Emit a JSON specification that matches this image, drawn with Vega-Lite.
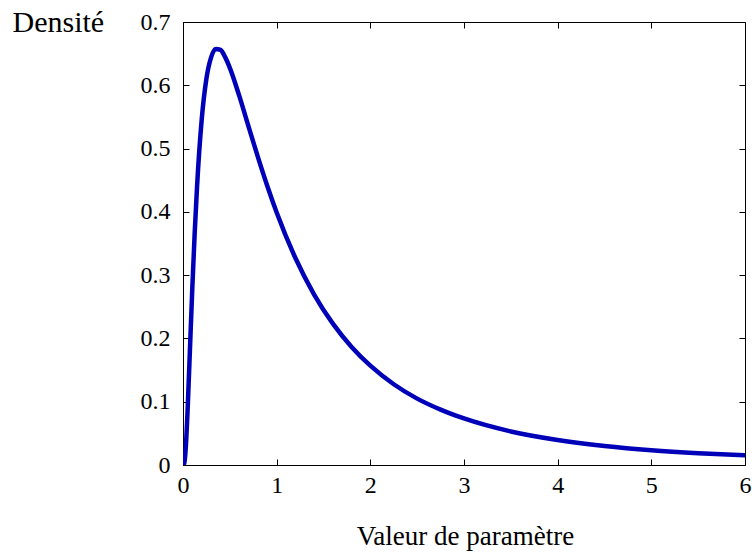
{
  "$schema": "https://vega.github.io/schema/vega-lite/v6.json",
  "width": 562,
  "height": 443,
  "autosize": {"type": "none"},
  "padding": {"left": 183, "top": 22, "right": 7, "bottom": 89},
  "background": "white",
  "config": {
    "view": {"stroke": "black", "strokeWidth": 1},
    "font": "Liberation Serif",
    "axis": {
      "labelFont": "Liberation Serif",
      "titleFont": "Liberation Serif",
      "labelFontSize": 24,
      "titleFontSize": 27,
      "titleFontWeight": "normal",
      "labelColor": "black",
      "titleColor": "black",
      "domainColor": "black",
      "tickColor": "black",
      "grid": false,
      "tickSize": -6,
      "labelPadding": 14,
      "labelFlush": false,
      "labelOverlap": false
    }
  },
  "data": {
    "values": [
      {"x": 0, "y": 0},
      {"x": 0.01, "y": 0.001},
      {"x": 0.02, "y": 0.0095},
      {"x": 0.03, "y": 0.0284},
      {"x": 0.05, "y": 0.0898},
      {"x": 0.075, "y": 0.1859},
      {"x": 0.1, "y": 0.2816},
      {"x": 0.125, "y": 0.3673},
      {"x": 0.15, "y": 0.4399},
      {"x": 0.2, "y": 0.5463},
      {"x": 0.25, "y": 0.6105},
      {"x": 0.3, "y": 0.6442},
      {"x": 0.35, "y": 0.6575},
      {"x": 0.4, "y": 0.656},
      {"x": 0.45, "y": 0.6445},
      {"x": 0.5, "y": 0.6276},
      {"x": 0.6, "y": 0.5836},
      {"x": 0.7, "y": 0.5348},
      {"x": 0.8, "y": 0.4864},
      {"x": 0.9, "y": 0.4408},
      {"x": 1.0, "y": 0.3989},
      {"x": 1.2, "y": 0.327},
      {"x": 1.4, "y": 0.2693},
      {"x": 1.6, "y": 0.2233},
      {"x": 1.8, "y": 0.1865},
      {"x": 2.0, "y": 0.1569},
      {"x": 2.25, "y": 0.1276},
      {"x": 2.5, "y": 0.1049},
      {"x": 2.75, "y": 0.0875},
      {"x": 3.0, "y": 0.0735},
      {"x": 3.5, "y": 0.053},
      {"x": 4.0, "y": 0.0395},
      {"x": 4.5, "y": 0.03},
      {"x": 5.0, "y": 0.0232},
      {"x": 5.5, "y": 0.0185},
      {"x": 6.0, "y": 0.0152}
    ]
  },
  "layer": [
    {
      "mark": {"type": "line", "color": "#0000b8", "strokeWidth": 4.5, "interpolate": "monotone", "clip": true},
      "encoding": {
        "x": {
          "field": "x", "type": "quantitative",
          "scale": {"domain": [0, 6], "nice": false, "zero": false},
          "axis": {"values": [0, 1, 2, 3, 4, 5, 6], "format": "d", "title": "Valeur de paramètre",
                   "titleBaseline": "alphabetic", "titleY": 79, "titleX": 282, "titleAlign": "center"}
        },
        "y": {
          "field": "y", "type": "quantitative",
          "scale": {"domain": [0, 0.7], "nice": false},
          "axis": {"values": [0, 0.1, 0.2, 0.3, 0.4, 0.5, 0.6, 0.7], "format": "~g", "title": "Densité",
                   "labelPadding": 19, "titleFontSize": 30,
                   "titleAngle": 0, "titleAlign": "left", "titleBaseline": "alphabetic", "titleX": -171, "titleY": 9}
        }
      }
    },
    {
      "mark": {"type": "line", "opacity": 0},
      "encoding": {
        "x": {"field": "x", "type": "quantitative",
              "axis": {"orient": "top", "values": [0, 1, 2, 3, 4, 5, 6], "labels": false, "title": null, "domain": false}},
        "y": {"field": "y", "type": "quantitative",
              "axis": {"orient": "right", "values": [0, 0.1, 0.2, 0.3, 0.4, 0.5, 0.6, 0.7], "labels": false, "title": null, "domain": false}}
      }
    }
  ],
  "resolve": {"axis": {"x": "independent", "y": "independent"}}
}
